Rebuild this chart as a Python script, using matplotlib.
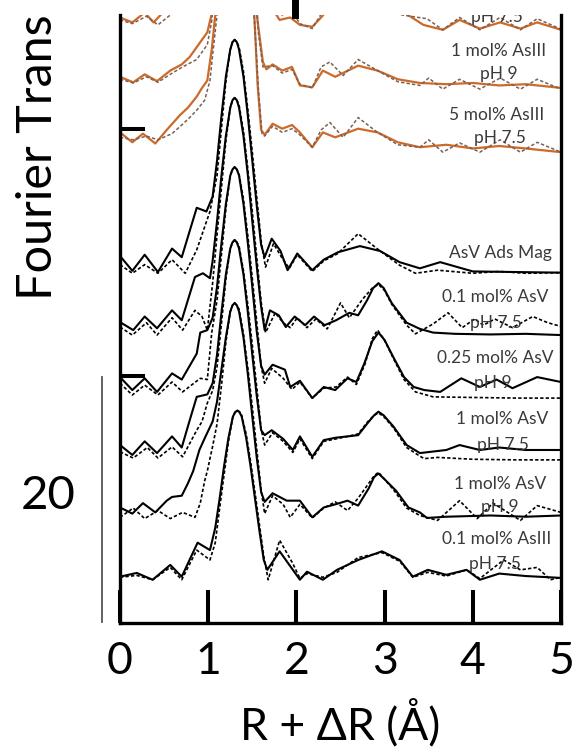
import matplotlib
matplotlib.use("Agg")
import matplotlib.pyplot as plt
from matplotlib.lines import Line2D

FONT = ['Lato', 'Open Sans', 'DejaVu Sans']
plt.rcParams['font.family'] = FONT

# ---------------- data (R in Angstrom, |FT| magnitudes, offsets for stacking) ----------------
# orange series (AsIII coprecipitates), top to bottom
r_o1_data = [0.00,0.14,0.28,0.38,0.50,0.65,0.85,1.00,1.10,1.20,1.30,1.40,1.50,1.56,1.62,1.72,1.81,1.93,2.04,2.18,2.28,2.40,2.70,2.95,3.20,3.44,3.66,3.85,4.08,4.31,4.54,4.73,5.00]
m_o1_data = [1.0,0.6,1.4,0.6,1.5,2.5,4.0,6.0,12.0,20.0,24.0,20.0,12.0,5.5,2.0,1.8,0.8,1.0,0.4,0.25,1.0,2.0,2.4,2.0,1.5,0.4,0.0,0.8,0.1,0.6,0.1,0.6,0.0]
r_o1_fit = [0.00,0.14,0.30,0.43,0.57,0.72,0.88,1.02,1.10,1.20,1.30,1.40,1.50,1.57,1.64,1.74,1.84,1.95,2.04,2.18,2.30,2.38,2.53,2.70,2.95,3.20,3.48,3.66,3.85,4.08,4.31,4.54,4.73,5.00]
m_o1_fit = [0.8,0.5,1.1,0.4,1.2,2.0,3.2,5.0,11.0,19.5,24.0,20.0,12.5,4.5,1.6,1.6,1.2,1.5,0.5,0.1,1.5,2.4,1.4,2.8,1.9,1.2,0.9,0.0,1.0,0.0,1.0,0.0,0.9,0.05]

r_o2_data = [0.00,0.15,0.28,0.42,0.57,0.70,0.79,0.91,0.99,1.04,1.08,1.13,1.20,1.30,1.40,1.47,1.52,1.56,1.62,1.66,1.73,1.84,1.95,2.04,2.18,2.30,2.44,2.70,2.92,3.15,3.40,3.70,4.00,4.30,4.60,5.00]
m_o2_data = [1.0,0.55,1.2,0.65,1.5,2.0,2.6,3.8,4.6,6.1,9.0,14.0,20.0,24.0,20.0,14.0,9.0,5.5,2.2,1.6,2.0,1.5,1.8,0.3,0.15,1.5,1.0,1.9,1.5,0.8,0.5,0.4,0.5,0.3,0.4,0.1]
r_o2_fit = [0.00,0.15,0.30,0.43,0.57,0.71,0.87,0.99,1.04,1.08,1.13,1.20,1.30,1.40,1.48,1.53,1.57,1.62,1.73,1.84,1.95,2.04,2.18,2.28,2.38,2.53,2.70,2.92,3.15,3.40,3.50,3.66,3.85,4.08,4.31,4.54,4.73,5.00]
m_o2_fit = [0.8,0.5,1.0,0.55,1.2,1.8,2.4,3.6,5.5,9.0,14.0,20.0,24.0,20.0,14.0,8.5,4.5,1.8,1.9,1.3,1.6,0.4,0.1,1.8,2.2,1.1,2.4,1.5,0.6,0.3,0.9,0.0,0.8,0.0,0.9,0.0,0.8,0.0]

r_o3_data = [0.00,0.14,0.26,0.40,0.53,0.68,0.77,0.87,0.93,0.99,1.04,1.08,1.13,1.20,1.30,1.40,1.47,1.52,1.56,1.60,1.64,1.73,1.84,1.95,2.04,2.18,2.30,2.44,2.70,2.92,3.15,3.40,3.70,4.00,4.30,4.60,5.00]
m_o3_data = [1.6,0.8,1.5,0.7,1.8,3.0,3.6,4.5,5.2,5.8,8.3,11.1,15.0,20.0,23.0,20.0,16.0,11.5,5.5,1.8,1.4,2.3,1.9,2.2,1.6,0.4,1.6,1.2,1.9,1.6,0.8,0.4,0.6,0.3,0.5,0.3,0.0]
r_o3_fit = [0.00,0.15,0.30,0.43,0.59,0.70,0.79,0.87,0.96,1.02,1.06,1.10,1.15,1.20,1.30,1.40,1.48,1.53,1.57,1.61,1.64,1.73,1.84,1.95,2.04,2.18,2.28,2.38,2.53,2.70,2.92,3.15,3.40,3.50,3.66,3.85,4.08,4.31,4.54,4.73,5.00]
m_o3_fit = [1.2,1.0,1.3,1.0,1.5,2.2,2.8,3.4,4.2,5.8,8.5,11.1,15.0,19.0,23.0,20.0,15.0,10.0,5.0,1.5,1.3,2.1,1.6,1.9,1.4,0.4,1.8,2.4,1.2,2.8,1.6,0.6,0.4,1.0,0.0,0.75,0.0,1.0,0.0,0.8,0.0]

# black series (AsV and low AsIII), top to bottom
r_b1_data = [0.00,0.14,0.28,0.43,0.59,0.70,0.87,0.98,1.05,1.10,1.15,1.20,1.25,1.275,1.30,1.325,1.35,1.40,1.45,1.50,1.55,1.60,1.64,1.72,1.82,1.90,2.01,2.18,2.31,2.47,2.72,2.95,3.17,3.40,3.63,4.00,4.50,5.00]
m_b1_data = [1.4,0.2,1.5,0.1,2.0,1.3,5.3,5.0,6.2,9.1,12.7,15.9,18.1,18.7,18.9,18.7,18.1,15.9,12.7,9.1,5.5,2.3,1.3,2.8,1.8,0.25,1.6,0.25,1.1,1.7,2.2,1.8,0.9,0.4,0.9,0.15,0.1,0.05]
r_b1_fit = [0.00,0.14,0.28,0.43,0.59,0.74,0.87,1.02,1.10,1.15,1.20,1.25,1.275,1.30,1.325,1.35,1.40,1.45,1.50,1.55,1.60,1.65,1.74,1.84,1.92,2.01,2.18,2.31,2.47,2.70,2.95,3.17,3.35,3.60,4.00,4.30,4.60,5.00]
m_b1_fit = [0.7,0.0,0.7,0.0,1.1,0.0,1.9,5.0,7.9,11.7,15.5,18.1,18.7,18.9,18.7,18.3,16.3,13.2,9.8,6.2,2.6,0.5,2.4,1.2,0.4,1.5,0.15,1.0,1.6,3.2,1.8,0.65,0.0,0.25,0.0,0.15,0.0,0.05]

r_b2_data = [0.00,0.15,0.28,0.42,0.59,0.70,0.85,0.94,1.02,1.05,1.10,1.15,1.20,1.25,1.275,1.30,1.325,1.35,1.40,1.45,1.50,1.55,1.60,1.64,1.70,1.80,1.88,1.98,2.10,2.20,2.32,2.45,2.60,2.70,2.80,2.87,2.93,2.99,3.08,3.25,3.40,3.55,3.80,4.20,4.60,5.00]
m_b2_data = [1.05,0.4,1.5,0.55,2.0,1.2,4.7,5.0,4.6,6.0,9.2,12.9,16.1,18.4,19.0,19.2,19.0,18.4,16.1,12.9,9.2,5.6,2.3,0.4,2.0,1.6,0.65,1.5,0.8,1.5,0.8,1.2,1.8,1.6,2.8,3.8,4.2,3.8,2.6,1.0,0.5,0.2,0.1,0.05,0.1,0.0]
r_b2_fit = [0.00,0.14,0.30,0.42,0.59,0.71,0.85,0.93,0.99,1.05,1.10,1.15,1.20,1.25,1.275,1.30,1.325,1.35,1.40,1.45,1.50,1.55,1.60,1.65,1.76,1.85,1.93,2.01,2.12,2.22,2.35,2.50,2.60,2.75,2.86,2.93,3.00,3.08,3.25,3.35,3.55,3.72,3.88,4.02,4.12,4.25,4.45,4.68,4.85,5.00]
m_b2_fit = [0.65,0.0,1.0,0.0,1.4,0.4,2.0,1.5,0.4,4.2,8.1,11.9,15.7,18.4,19.0,19.2,19.0,18.6,16.5,13.4,10.0,6.3,2.7,0.2,1.8,1.0,0.6,1.4,0.6,1.3,0.5,2.6,1.4,2.9,3.8,4.1,3.6,2.5,0.8,0.1,0.9,1.8,0.6,1.3,0.8,1.3,0.6,1.5,1.0,0.7]

r_b3_data = [0.00,0.14,0.28,0.42,0.59,0.70,0.87,0.91,0.99,1.05,1.10,1.15,1.20,1.25,1.275,1.30,1.325,1.35,1.40,1.45,1.50,1.55,1.60,1.64,1.73,1.87,1.93,2.04,2.18,2.31,2.44,2.58,2.68,2.77,2.86,2.93,3.00,3.10,3.22,3.33,3.45,3.63,3.87,4.08,4.27,4.45,4.73,5.00]
m_b3_data = [1.7,0.65,1.6,0.5,2.0,1.5,3.6,5.3,5.5,6.5,9.0,12.5,15.7,18.0,18.5,18.7,18.5,18.0,15.7,12.5,9.0,5.4,2.6,1.9,2.7,2.3,0.9,1.4,0.0,0.9,0.65,1.6,1.3,2.8,4.6,5.3,4.7,3.3,1.7,0.9,0.65,0.5,1.6,0.9,1.5,0.8,1.7,1.3]
r_b3_fit = [0.00,0.14,0.28,0.43,0.59,0.71,0.91,0.99,1.04,1.10,1.15,1.20,1.25,1.275,1.30,1.325,1.35,1.40,1.45,1.50,1.55,1.60,1.64,1.72,1.85,1.95,2.04,2.18,2.31,2.45,2.58,2.68,2.78,2.86,2.92,2.99,3.10,3.22,3.35,3.55,4.00,4.50,5.00]
m_b3_fit = [1.2,0.25,1.05,0.25,1.3,0.5,1.6,1.5,5.3,7.9,11.6,15.3,18.0,18.5,18.7,18.5,18.1,16.1,13.1,9.7,6.2,2.6,1.2,2.4,1.6,0.7,1.3,0.0,0.8,0.9,1.7,1.1,2.8,4.8,5.5,4.8,3.2,1.5,0.5,0.1,0.05,0.0,0.0]

r_b4_data = [0.00,0.14,0.28,0.42,0.59,0.70,0.79,0.87,0.99,1.05,1.10,1.15,1.20,1.25,1.275,1.30,1.325,1.35,1.40,1.45,1.50,1.55,1.60,1.64,1.72,1.85,1.96,2.04,2.18,2.31,2.45,2.58,2.70,2.81,2.88,2.93,2.99,3.10,3.25,3.40,3.70,3.85,4.08,4.30,4.60,5.00]
m_b4_data = [1.2,0.4,1.5,0.55,1.9,1.0,3.2,5.1,5.3,6.2,8.5,11.9,15.0,17.1,17.6,17.8,17.6,17.1,15.0,11.9,8.5,5.2,2.4,2.0,2.4,1.7,0.8,1.9,0.25,1.6,1.8,1.9,2.0,3.0,3.6,3.9,3.6,2.7,1.2,0.55,0.8,1.2,0.8,1.0,0.8,0.8]
r_b4_fit = [0.00,0.15,0.31,0.43,0.59,0.71,0.87,0.93,0.99,1.05,1.10,1.15,1.20,1.25,1.275,1.30,1.325,1.35,1.40,1.45,1.50,1.55,1.60,1.64,1.73,1.85,1.96,2.04,2.18,2.31,2.45,2.58,2.70,2.81,2.88,2.93,2.99,3.10,3.25,3.40,3.45,3.60,4.00,4.50,5.00]
m_b4_fit = [0.65,0.15,1.0,0.15,1.05,0.25,2.4,3.1,4.6,5.6,7.5,11.0,14.6,17.1,17.6,17.8,17.6,17.3,15.3,12.5,9.3,5.9,2.5,1.2,2.2,1.5,0.6,1.7,0.1,1.5,1.7,1.9,2.1,3.1,3.6,3.8,3.5,2.6,1.0,0.3,0.1,0.2,0.05,0.0,0.0]

r_b5_data = [0.00,0.14,0.26,0.40,0.53,0.59,0.70,0.77,0.83,0.90,0.97,1.05,1.10,1.15,1.20,1.25,1.275,1.30,1.325,1.35,1.40,1.45,1.50,1.55,1.60,1.64,1.73,1.89,2.04,2.18,2.31,2.44,2.58,2.70,2.82,2.88,2.93,2.99,3.13,3.27,3.40,3.48,3.70,4.20,4.60,5.00]
m_b5_data = [1.05,0.55,1.4,0.65,1.6,1.9,2.0,3.0,4.0,5.7,6.8,8.0,9.6,12.2,14.8,16.9,17.4,17.6,17.4,16.9,14.8,11.8,8.4,5.1,2.3,1.5,2.2,1.6,1.6,0.25,1.05,1.3,1.6,1.2,2.6,3.5,3.8,3.4,2.4,1.05,0.65,0.2,0.3,0.4,0.3,0.4]
r_b5_fit = [0.00,0.15,0.28,0.43,0.57,0.71,0.85,0.91,0.96,0.99,1.05,1.10,1.15,1.20,1.25,1.275,1.30,1.325,1.35,1.40,1.45,1.50,1.55,1.60,1.64,1.73,1.85,1.93,2.04,2.18,2.31,2.44,2.58,2.70,2.82,2.88,2.93,2.99,3.10,3.25,3.40,3.60,3.85,4.05,4.23,4.54,4.73,5.00]
m_b5_fit = [0.25,1.0,0.15,0.8,0.15,0.65,0.25,1.4,3.2,4.0,6.0,7.8,10.9,14.4,16.9,17.4,17.6,17.4,17.1,15.1,12.3,9.2,5.8,2.5,0.55,2.0,1.3,0.25,1.3,0.2,1.0,1.5,0.8,1.8,3.0,3.6,3.9,3.4,2.5,1.0,0.4,0.0,1.6,0.15,1.4,0.0,1.2,0.65]

r_b6_data = [0.00,0.19,0.37,0.57,0.70,0.88,1.02,1.08,1.13,1.18,1.23,1.28,1.305,1.33,1.355,1.38,1.43,1.48,1.53,1.58,1.63,1.67,1.81,1.96,2.04,2.12,2.30,2.46,2.70,2.97,3.17,3.32,3.49,3.70,3.93,4.08,4.30,4.60,5.00]
m_b6_data = [0.25,0.55,0.0,1.2,0.25,3.0,2.4,4.2,6.6,9.2,11.5,13.2,13.55,13.7,13.55,13.2,11.5,9.2,6.6,4.0,1.6,0.8,2.3,0.8,0.0,0.65,0.0,0.8,1.6,2.3,1.6,0.25,0.8,0.4,0.8,0.0,0.5,0.3,0.15]
r_b6_fit = [0.00,0.19,0.37,0.57,0.70,0.87,1.02,1.08,1.13,1.18,1.23,1.28,1.305,1.33,1.355,1.38,1.43,1.48,1.53,1.58,1.63,1.68,1.81,1.96,2.04,2.12,2.30,2.46,2.70,2.97,3.17,3.32,3.49,3.70,3.93,4.08,4.35,4.54,4.73,4.88,5.00]
m_b6_fit = [0.2,0.35,0.0,1.0,0.0,2.4,1.6,3.0,5.8,8.5,11.2,13.2,13.55,13.7,13.6,13.3,11.8,9.6,7.1,4.5,1.9,0.0,3.2,1.3,0.1,0.5,0.2,0.6,1.8,2.2,1.5,0.2,0.6,0.3,0.8,0.1,1.6,0.8,1.0,0.0,0.2]

offsets = [48.0, 43.2, 38.1, 28.3, 23.3, 18.2, 13.2, 8.3, 3.5]

label_text = ["pH 7.5", "1 mol% AsIII", "pH 9", "5 mol% AsIII", "pH 7.5", "AsV Ads Mag",
              "0.1 mol% AsV", "pH 7.5", "0.25 mol% AsV", "pH 9", "1 mol% AsV", "pH 7.5",
              "1 mol% AsV", "pH 9", "0.1 mol% AsIII", "pH 7.5"]
label_r = [4.27, 4.29, 4.29, 4.27, 4.31, 4.31, 4.25, 4.26, 4.25, 4.23, 4.33, 4.34, 4.31, 4.31, 4.27, 4.25]
label_y = [48.66, 45.9, 44.05, 40.73, 38.87, 29.55, 26.0, 23.9, 21.05, 19.03, 16.11, 14.0, 10.85, 9.0, 6.4, 4.37]

x_ticks = [0, 1, 2, 3, 4, 5]
y_ticks = [20, 40]

data_series = [(r_o1_data, m_o1_data), (r_o2_data, m_o2_data), (r_o3_data, m_o3_data),
               (r_b1_data, m_b1_data), (r_b2_data, m_b2_data), (r_b3_data, m_b3_data),
               (r_b4_data, m_b4_data), (r_b5_data, m_b5_data), (r_b6_data, m_b6_data)]
fit_series = [(r_o1_fit, m_o1_fit), (r_o2_fit, m_o2_fit), (r_o3_fit, m_o3_fit),
              (r_b1_fit, m_b1_fit), (r_b2_fit, m_b2_fit), (r_b3_fit, m_b3_fit),
              (r_b4_fit, m_b4_fit), (r_b5_fit, m_b5_fit), (r_b6_fit, m_b6_fit)]

# ---------------- figure ----------------
W, H = 577, 754
fig = plt.figure(figsize=(W / 100, H / 100), dpi=100)
fig.patch.set_facecolor('white')
ax = fig.add_axes([120 / W, (H - 623) / H, (561 - 120) / W, (623 - 15) / H])
ax.set_xlim(0, 5)
ax.set_ylim(0, 49.2)

ORANGE = '#CC6A2A'
ORANGE_FIT = '#7d5f52'
for i, ((rd, md), (rf, mf)) in enumerate(zip(data_series, fit_series)):
    off = offsets[i]
    if i < 3:
        ax.plot(rd, [off + v for v in md], color=ORANGE, lw=1.6, solid_joinstyle='round')
        ax.plot(rf, [off + v for v in mf], color=ORANGE_FIT, lw=1.1, ls=(0, (2.2, 1.4)))
    else:
        ax.plot(rd, [off + v for v in md], color='black', lw=1.5, solid_joinstyle='round')
        ax.plot(rf, [off + v for v in mf], color='black', lw=1.2, ls=(0, (2.0, 1.3)))

for t, xr, yv in zip(label_text, label_r, label_y):
    ax.text(xr, yv, t, ha='center', va='baseline', fontsize=12.5, color='#3a3a3a',
            clip_on=True, family=FONT)

for s in ['left', 'right', 'bottom']:
    ax.spines[s].set_linewidth(2.4)
    ax.spines[s].set_color('black')
ax.spines['top'].set_visible(False)

ax.set_xticks(x_ticks)
ax.set_xticklabels([str(v) for v in x_ticks])
ax.set_yticks(y_ticks)
ax.tick_params(axis='x', direction='in', length=23.8, width=2.9, labelsize=32, pad=13, colors='black')
ax.tick_params(axis='y', direction='in', length=18, width=2.9, labelleft=False)
ax.set_xlabel('R + ΔR (Å)', fontsize=32, labelpad=12)

# composite-figure remnants outside the axes
fig.add_artist(Line2D([294.5 / W, 294.5 / W], [1, 1 - 15 / H], lw=5.0, color='black'))
fig.add_artist(Line2D([102 / W, 102 / W], [1 - 377 / H, 1 - 622 / H], lw=1.3, color='#555555'))
fig.text(48 / W, 1 - 496 / H, '20', ha='center', va='center', fontsize=34)
fig.text(38 / W, 1 - 300 / H, 'Fourier Trans', rotation=90,
         ha='center', va='bottom', fontsize=35)

fig.savefig('out.png', dpi=100, facecolor='white')
